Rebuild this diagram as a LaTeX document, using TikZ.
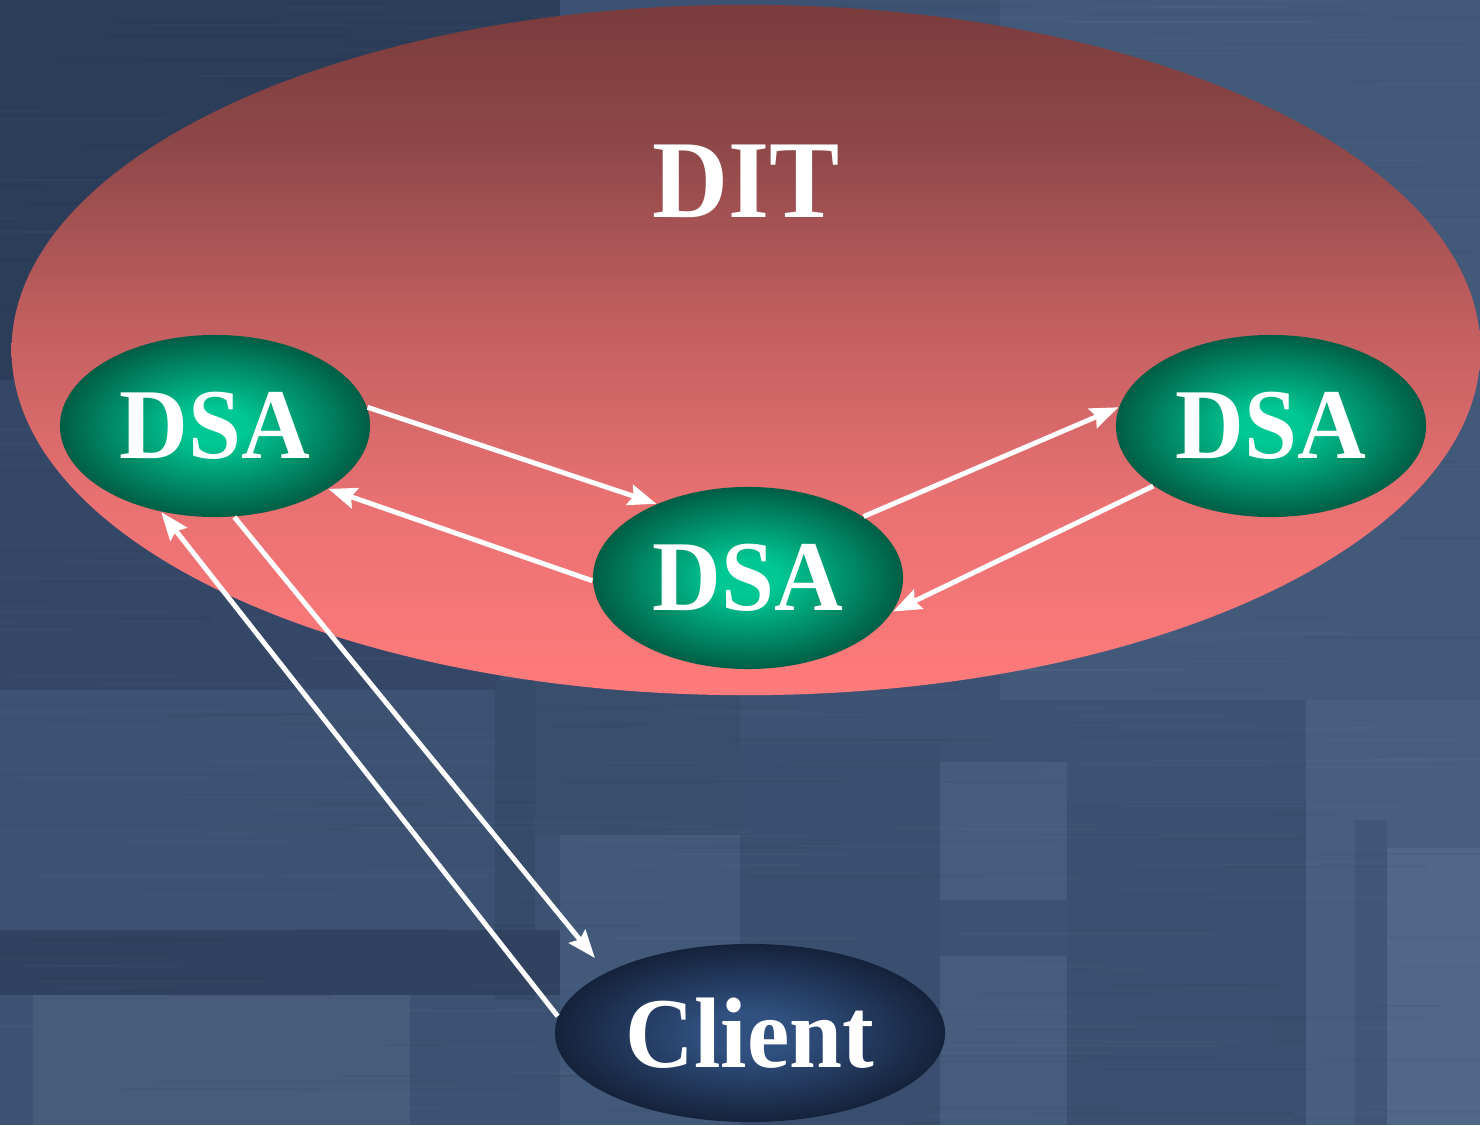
\documentclass[tikz,border=0pt]{standalone}
\usepackage{fontspec}
\newfontfamily\lblfont[FakeStretch=0.95]{Liberation Serif}
\usetikzlibrary{shapes.geometric,arrows.meta}

% palette
\definecolor{bgbase}{HTML}{3D5273}
\definecolor{bgdark}{HTML}{2C3D5A}
\definecolor{bgmid}{HTML}{374B6B}
\definecolor{bglight}{HTML}{475E7F}
\definecolor{bglighter}{HTML}{506788}
\definecolor{ditA}{HTML}{7A3B3C}
\definecolor{ditB}{HTML}{8E4748}
\definecolor{ditC}{HTML}{BE5D5E}
\definecolor{ditD}{HTML}{E97172}
\definecolor{ditE}{HTML}{FF7B7B}
\definecolor{dsaCore}{HTML}{00C894}
\definecolor{dsaRim}{HTML}{005E45}
\definecolor{cliCore}{HTML}{30507F}
\definecolor{cliRim}{HTML}{15223B}

\pgfdeclareradialshading{dsashade}{\pgfpoint{0bp}{0bp}}{%
  color(0bp)=(dsaCore); color(5bp)=(dsaCore); color(25bp)=(dsaRim); color(50bp)=(dsaRim)}
\pgfdeclareradialshading{clishade}{\pgfpoint{0bp}{0bp}}{%
  color(0bp)=(cliCore); color(6bp)=(cliCore); color(25bp)=(cliRim); color(50bp)=(cliRim)}
% vertical fade of the tree area, bottom (25bp) to top (75bp)
\pgfdeclareverticalshading{ditshade}{100bp}{%
  color(0bp)=(ditE); color(25bp)=(ditE); color(39bp)=(ditD); color(53bp)=(ditC);
  color(65bp)=(ditB); color(75bp)=(ditA); color(100bp)=(ditA)}

\tikzset{
  dsa/.style={ellipse, inner sep=0pt, minimum width=3.1cm, minimum height=1.82cm,
    shading=dsashade, text=white, font=\lblfont\bfseries\fontsize{28.5pt}{30pt}\selectfont},
  clientnode/.style={ellipse, inner sep=0pt, minimum width=3.9cm, minimum height=1.78cm,
    shading=clishade, text=white, font=\lblfont\bfseries\fontsize{28.5pt}{30pt}\selectfont},
  ditarea/.style={ellipse, inner sep=0pt, minimum width=14.68cm, minimum height=6.9cm,
    shading=ditshade},
  ditlabel/.style={inner sep=0pt, text=white, font=\lblfont\bfseries\fontsize{31.5pt}{33pt}\selectfont},
  flow/.style={draw=white, line width=1.4pt,
    -{Stealth[length=0.28cm, width=0.21cm, inset=0.04cm]}},
}

\begin{document}
\begin{tikzpicture}[x=0.01cm, y=-0.01cm]
\useasboundingbox (0,0) rectangle (1480,1125);

% textured backdrop
\fill[bgbase] (0,0) rectangle (1480,1125);
\fill[bgdark] (0,0) rectangle (560,380);
\fill[bgdark!50!bgbase] (0,380) rectangle (500,690);
\fill[bglight!60!bgbase] (1000,0) rectangle (1480,700);
\fill[bgmid!70!bgbase] (500,680) rectangle (740,835);
\fill[bgdark!40!bgbase] (495,680) rectangle (535,1000);
\fill[bgdark!75!bgbase] (0,930) rectangle (560,995);
\fill[bgbase!95!white] (33,995) rectangle (410,1125);
\fill[bglight!60!bgbase] (560,835) rectangle (865,1125);
\fill[bgmid!50!bgbase] (740,745) rectangle (940,1125);
\fill[bglight!80!bgbase] (940,762) rectangle (1067,900);
\fill[bgmid!40!bgbase] (1067,803) rectangle (1306,1125);
\fill[bglight!80!bgbase] (940,956) rectangle (1067,1125);
\fill[bgmid!70!bgbase] (1273,1016) rectangle (1353,1046);
\fill[bglight] (1306,700) rectangle (1480,1125);
\fill[bgmid!40!bglight] (1355,820) rectangle (1387,1125);
\fill[bglighter] (1387,848) rectangle (1480,1125);

% brushed streaks
\pgfmathsetseed{11}
\foreach \k in {1,...,220}{
  \pgfmathsetmacro\yy{rnd*1125}
  \pgfmathsetmacro\xx{rnd*1440-40}
  \pgfmathsetmacro\ll{40+rnd*260}
  \draw[white, opacity=0.02, line width=0.025cm] (\xx,\yy) -- ++(\ll,0);
}
\foreach \k in {1,...,220}{
  \pgfmathsetmacro\yy{rnd*1125}
  \pgfmathsetmacro\xx{rnd*1440-40}
  \pgfmathsetmacro\ll{40+rnd*260}
  \draw[black, opacity=0.03, line width=0.025cm] (\xx,\yy) -- ++(\ll,0);
}

% directory information tree
\node[ditarea] (dit) at (746,350) {};
\node[ditlabel] (ditname) at (746,181) {DIT};

% agents and client
\node[dsa] (dsaL) at (215,426) {DSA};
\node[dsa] (dsaM) at (748,578) {DSA};
\node[dsa] (dsaR) at (1271,426) {DSA};
\node[clientnode] (cli) at (750,1033) {Client};

% request / reply flows
\draw[flow] (dsaL.7) -- (dsaM.141);
\draw[flow] (dsaM.181) -- (dsaL.-29);
\draw[flow] (dsaM.28) -- (dsaR.173);
\draw[flow] (dsaR.207) -- (dsaM.-13);
\draw[flow, shorten >=0.18cm] (dsaL.-78) -- (cli.157);
\draw[flow] (cli.175) -- (dsaL.238);
\end{tikzpicture}
\end{document}
